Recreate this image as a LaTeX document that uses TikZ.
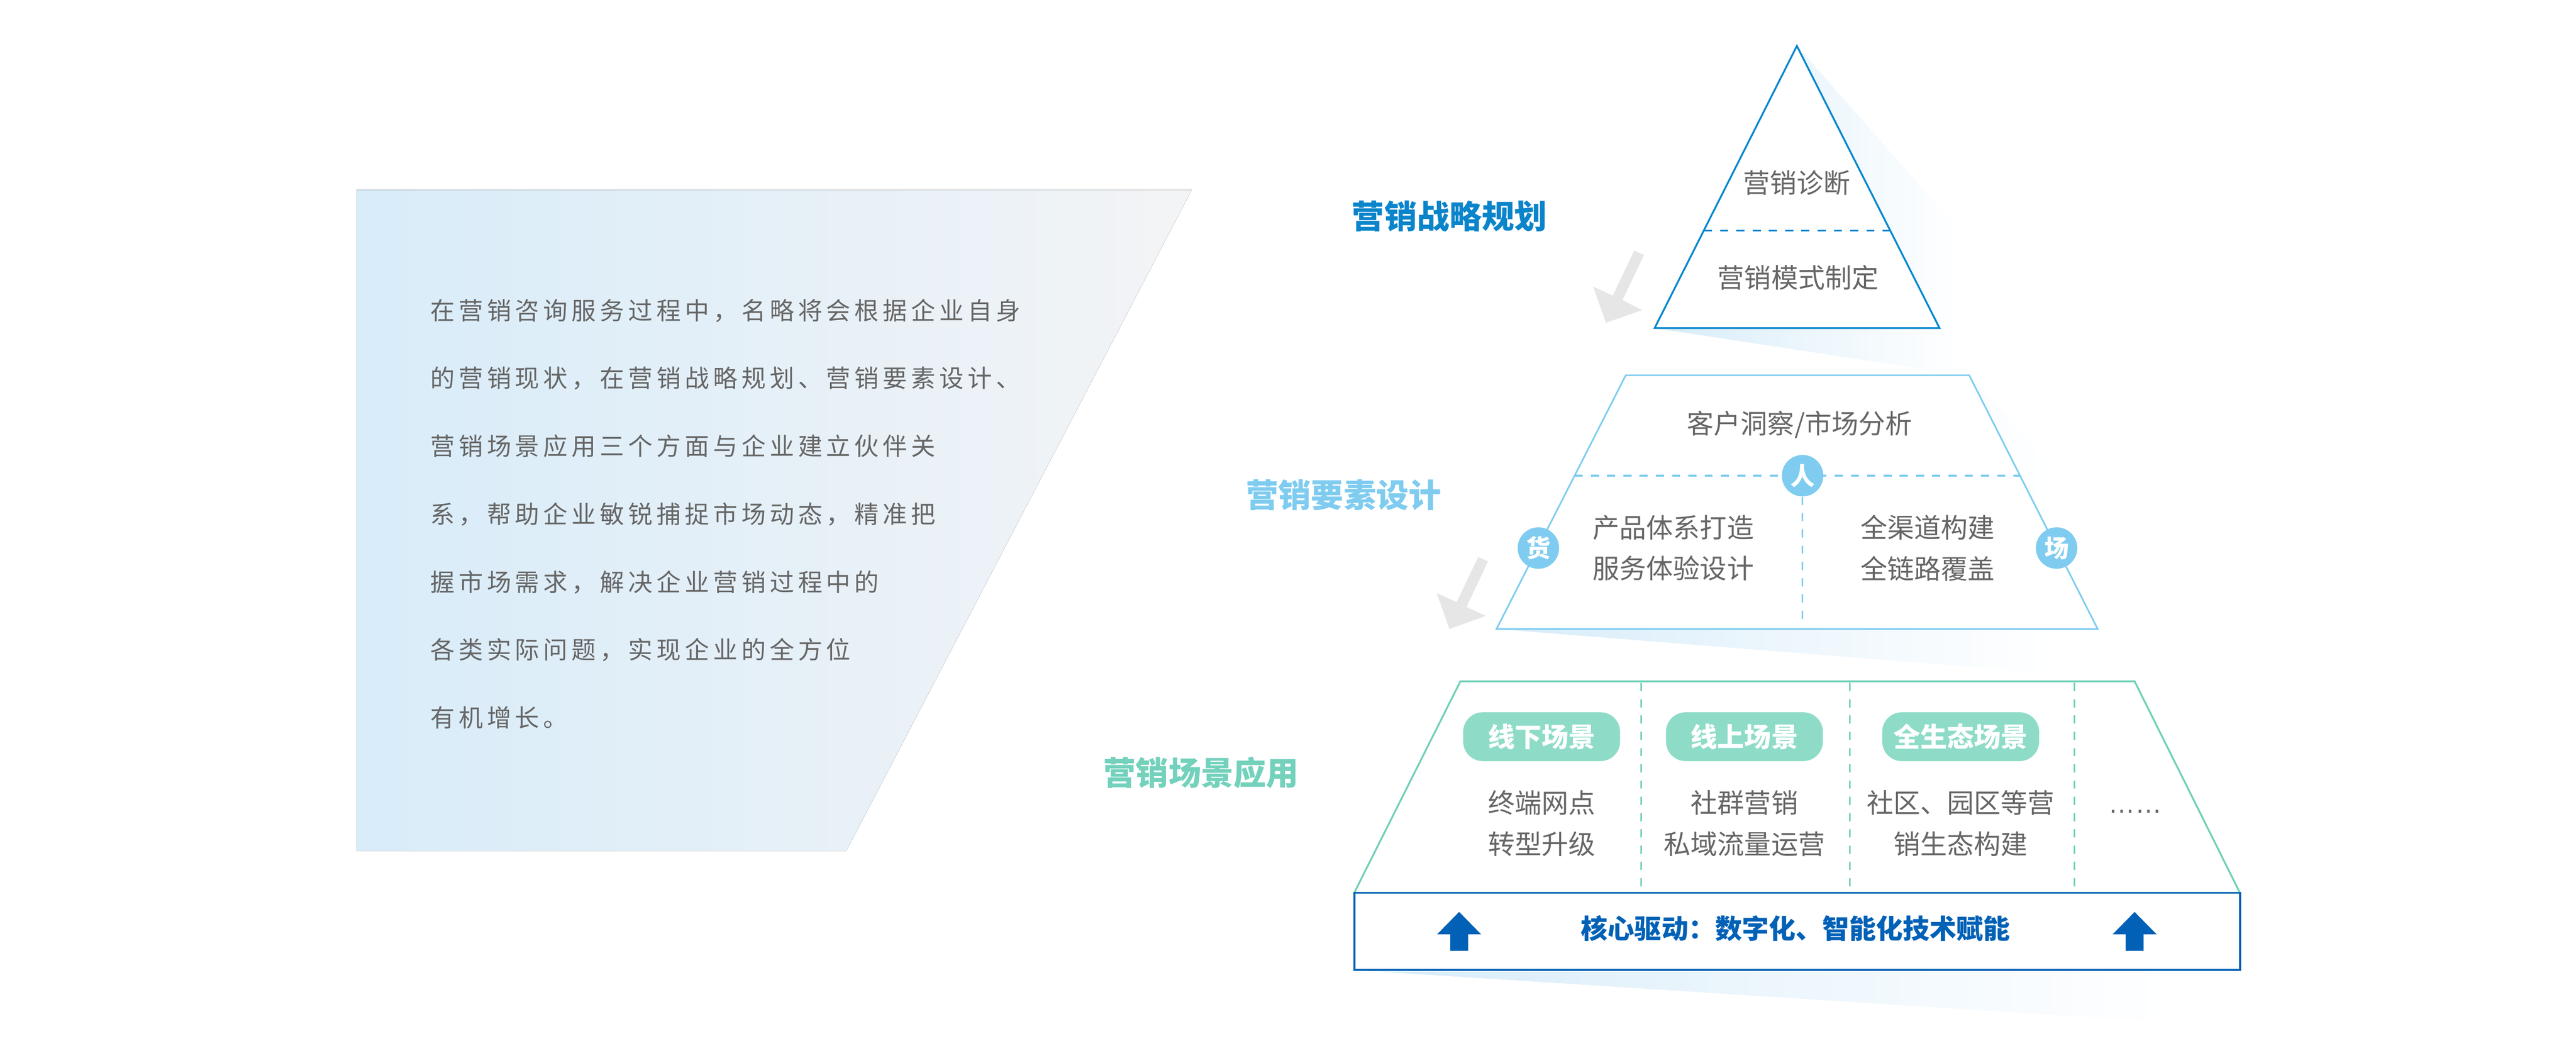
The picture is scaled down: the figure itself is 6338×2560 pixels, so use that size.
\documentclass[tikz,border=0pt]{standalone}
\usepackage{fontspec}
\setmainfont{Noto Sans CJK SC}
\newfontfamily\cjk{Noto Sans CJK SC}
\newfontfamily\cjkls[LetterSpace=16]{Noto Sans CJK SC}
\newfontfamily\lat{Liberation Sans}
\definecolor{triblue}{HTML}{0086CE}
\definecolor{lblblue}{HTML}{0A84CA}
\definecolor{lightblue}{HTML}{7FCCF0}
\definecolor{mint}{HTML}{70D0B8}
\definecolor{mintlbl}{HTML}{73D1BC}
\definecolor{pillc}{HTML}{8EDCC8}
\definecolor{coreblue}{HTML}{0061B6}
\definecolor{arrgray}{HTML}{E6E6E6}
\definecolor{shadowblue}{HTML}{D6ECFA}
\definecolor{shadowmid}{HTML}{EAF5FC}
\definecolor{txtgray}{HTML}{666666}
\definecolor{panelL}{HTML}{D8ECF9}
\definecolor{panelR}{HTML}{F3F4F6}
\pgfdeclarehorizontalshading{shadowsh}{100bp}{color(0bp)=(shadowblue); color(25bp)=(shadowblue); color(45bp)=(shadowmid); color(70bp)=(white); color(100bp)=(white)}
\begin{document}
\begin{tikzpicture}[x=0.25pt,y=-0.25pt,
  txt/.style={text=txtgray, font=\cjk\fontsize{16.5}{25.2}\selectfont, inner sep=0, align=center},
  lbl/.style={font=\cjk\bfseries\fontsize{20}{24}\selectfont, inner sep=0},
  pill/.style={fill=pillc, rounded corners=12pt, minimum width=96.5pt, minimum height=30pt, inner sep=0,
    text=white, font=\cjk\bfseries\fontsize{16.5}{20}\selectfont},
  badge/.style={circle, fill=lightblue, minimum size=25.5pt, inner sep=0, text=white,
    font=\cjk\bfseries\fontsize{15}{18}\selectfont},
  shadowfill/.style={shading=shadowsh},
  grayarrow/.style={fill=arrgray},
  uparrow/.style={fill=coreblue},
  dashline/.style={dash pattern=on 5pt off 5pt}
]
\useasboundingbox (0,0) rectangle (6338,2560);
\fill[white] (0,0) rectangle (6338,2560);

% left panel
\fill[left color=panelL, right color=panelR] (877,467) -- (2932,467) -- (2082,2093) -- (877,2093) -- cycle;
\node[anchor=west, inner sep=0, text=txtgray, align=left, font=\cjkls\fontsize{15}{41.75}\selectfont] (intro) at (1058,1264)
{在营销咨询服务过程中，名略将会根据企业自身\\
的营销现状，在营销战略规划、营销要素设计、\\
营销场景应用三个方面与企业建立伙伴关\\
系，帮助企业敏锐捕捉市场动态，精准把\\
握市场需求，解决企业营销过程中的\\
各类实际问题，实现企业的全方位\\
有机增长。};

% shadows
\shade[shadowfill] (4421,113) -- (4850,600) -- (4910,935) -- (4071,807) -- cycle;
\shade[shadowfill] (4845,923) -- (5200,1300) -- (5160,1665) -- (3681,1547) -- cycle;
\shade[shadowfill] (5252,1676) -- (5560,2100) -- (5420,2520) -- (3333,2386) -- cycle;

% gray arrows
\fill[grayarrow] (4021,616) -- (4045,627) -- (3992,738) -- (4040,763) -- (3951,794) -- (3920,705) -- (3968,727) -- cycle;
\fill[grayarrow] (3637,1370) -- (3661,1381) -- (3608,1493) -- (3656,1515) -- (3566,1547) -- (3535,1459) -- (3584,1481) -- cycle;

% level 1: triangle
\filldraw[fill=white, draw=triblue, line width=1.1pt, line join=miter] (4421,113) -- (4772,807) -- (4071,807) -- cycle;
\draw[triblue, line width=1pt, dashline] (4192,567) -- (4650,567);
\node[txt] (diag) at (4421,450) {营销诊断};
\node[txt] (mode) at (4424,683) {营销模式制定};
\node[lbl, text=lblblue] (l1) at (3566,532) {营销战略规划};

% level 2: trapezoid
\filldraw[fill=white, draw=lightblue, line width=1pt] (4000,923) -- (4845,923) -- (5161,1547) -- (3682,1547) -- cycle;
\draw[lightblue, line width=1pt, dashline] (3874,1170) -- (4970,1170);
\draw[lightblue, line width=1pt, dashline] (4435,1222) -- (4435,1540);
\node[txt] (cust) at (4428,1045) {客户洞察/市场分析};
\node[txt] (prod) at (4117,1348) {产品体系打造\\服务体验设计};
\node[txt] (chan) at (4743,1348) {全渠道构建\\全链路覆盖};
\node[badge] (ren) at (4435,1170) {人};
\node[badge] (huo) at (3785,1348) {货};
\node[badge] (chang) at (5060,1348) {场};
\node[lbl, text=lightblue] (l2) at (3306,1217) {营销要素设计};

% level 3: trapezoid
\filldraw[fill=white, draw=mint, line width=1.1pt] (3593,1676) -- (5252,1676) -- (5511,2196) -- (3332,2196) -- cycle;
\foreach \xx in {4038,4551,5104} \draw[mint, line width=1pt, dashline] (\xx,1680) -- (\xx,2192);
\node[pill] (p1) at (3793,1812) {线下场景};
\node[pill] (p2) at (4292,1812) {线上场景};
\node[pill] (p3) at (4824,1812) {全生态场景};
\node[txt] (t1) at (3793,2025) {终端网点\\转型升级};
\node[txt] (t2) at (4292,2025) {社群营销\\私域流量运营};
\node[txt] (t3) at (4824,2025) {社区、园区等营\\销生态构建};
\node[anchor=base, inner sep=0, text=txtgray, font=\lat\fontsize{16.5}{20}\selectfont] (more) at (5254,2000) {……};
\node[lbl, text=mintlbl] (l3) at (2955,1900) {营销场景应用};

% core drive bar
\draw[coreblue, line width=1.2pt, fill=white] (3332,2196) rectangle (5511,2386);
\node[inner sep=0, text=coreblue, font=\cjk\bfseries\fontsize{16.5}{20}\selectfont] (core) at (4418,2283) {核心驱动：数字化、智能化技术赋能};
\fill[uparrow] (3590,2243) -- (3644,2298) -- (3612,2298) -- (3612,2339) -- (3568,2339) -- (3568,2298) -- (3536,2298) -- cycle;
\fill[uparrow] (5252,2243) -- (5306,2298) -- (5274,2298) -- (5274,2339) -- (5230,2339) -- (5230,2298) -- (5198,2298) -- cycle;
\end{tikzpicture}
\end{document}
